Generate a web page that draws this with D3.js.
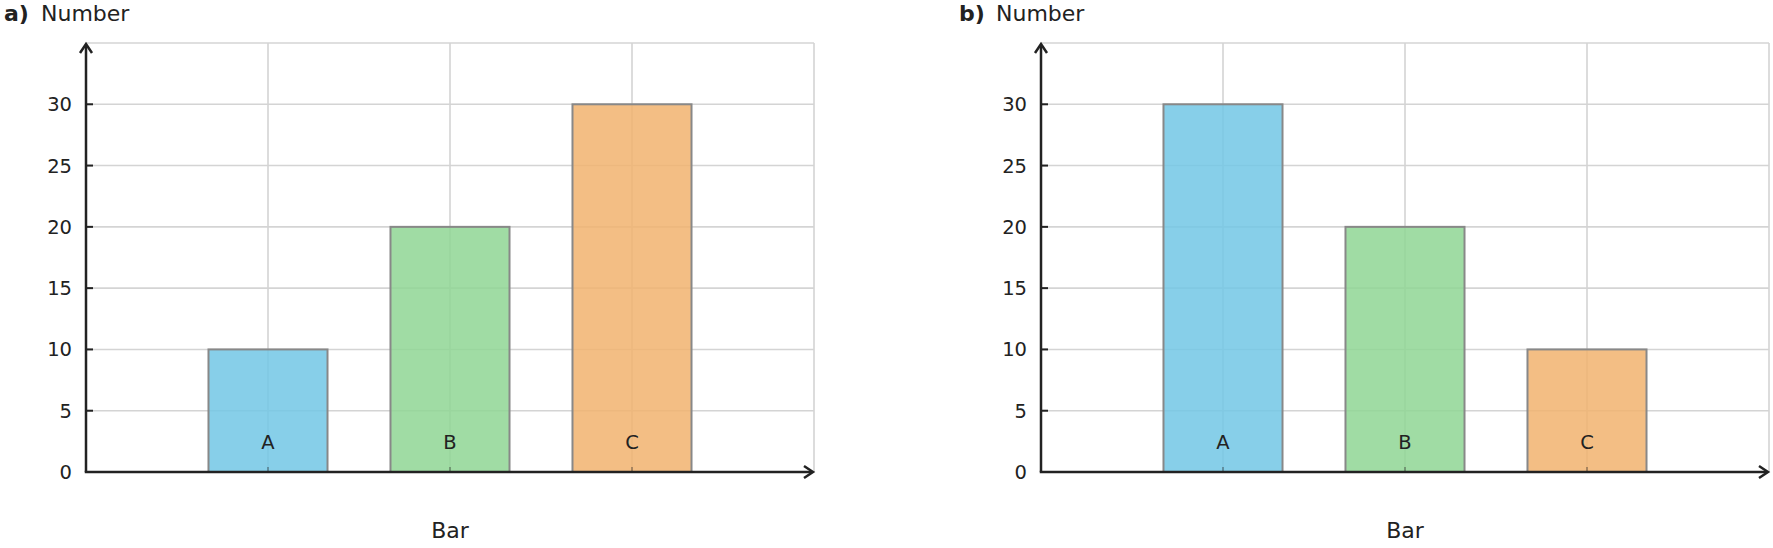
<!DOCTYPE html>
<html>
<head>
<meta charset="utf-8">
<script src="https://cdn.jsdelivr.net/npm/d3@7"></script>
<style>
  body { margin: 0; background: #fff; }
  text { font-family: "DejaVu Sans", sans-serif; fill: #222; }
</style>
</head>
<body>
<svg id="chart" width="1773" height="548"></svg>
<script>
// data
var categories = ['A', 'B', 'C'];
var valuesA = [10, 20, 30];
var valuesB = [30, 20, 10];
var yTicks = [0, 5, 10, 15, 20, 25, 30];
var panelLabels = ['a)', 'b)'];
var fills = ['rgb(114,199,229)', 'rgb(143,214,148)', 'rgb(241,179,110)'];

var svg = d3.select('#chart');
var plotW = 728, plotH = 429, plotTop = 43;
var x = d3.scaleLinear().domain([0, 4]).range([0, plotW]);
var y = d3.scaleLinear().domain([0, 35]).range([plotH, 0]);
var barW = 0.654;

function panel(left, label, values) {
  var g = svg.append('g').attr('transform', 'translate(' + left + ',' + plotTop + ')');

  // title
  g.append('text').attr('x', -82).attr('y', -22).style('font-size', '22px')
    .style('font-weight', 'bold').text(label);
  g.append('text').attr('x', -45).attr('y', -22).style('font-size', '22px').text('Number');

  // grid
  g.selectAll('.hg').data(yTicks.slice(1).concat([35])).enter().append('line')
    .attr('x1', 0).attr('x2', plotW).attr('y1', d => y(d)).attr('y2', d => y(d))
    .attr('stroke', '#d4d4d4').attr('stroke-width', 1.6);
  g.selectAll('.vg').data([1, 2, 3, 4]).enter().append('line')
    .attr('y1', 0).attr('y2', plotH).attr('x1', d => x(d)).attr('x2', d => x(d))
    .attr('stroke', '#d4d4d4').attr('stroke-width', 1.6);

  // bars
  g.selectAll('.bar').data(values).enter().append('rect')
    .attr('x', (d, i) => x(i + 1 - barW / 2))
    .attr('width', x(barW) - x(0))
    .attr('y', d => y(d))
    .attr('height', d => y(0) - y(d))
    .attr('fill', (d, i) => fills[i]).attr('fill-opacity', 0.85)
    .attr('stroke', '#888').attr('stroke-width', 2);

  // x ticks
  g.selectAll('.xt').data([1, 2, 3]).enter().append('line')
    .attr('x1', d => x(d)).attr('x2', d => x(d)).attr('y1', plotH).attr('y2', plotH - 5)
    .attr('stroke', '#222').attr('stroke-opacity', 0.35).attr('stroke-width', 2);

  // bar labels
  g.selectAll('.bl').data(categories).enter().append('text')
    .attr('x', (d, i) => x(i + 1)).attr('y', plotH - 23)
    .attr('text-anchor', 'middle').style('font-size', '19.5px').text(d => d);

  // y ticks
  g.selectAll('.yt').data(yTicks.slice(1)).enter().append('line')
    .attr('x1', 0).attr('x2', 7).attr('y1', d => y(d)).attr('y2', d => y(d))
    .attr('stroke', '#222').attr('stroke-width', 2);
  g.selectAll('.yl').data(yTicks).enter().append('text')
    .attr('x', -14).attr('y', d => y(d)).attr('dy', '0.36em')
    .attr('text-anchor', 'end').style('font-size', '19.5px').text(d => d);

  // axes with arrows
  g.append('line').attr('x1', 0).attr('y1', plotH).attr('x2', 0).attr('y2', 2)
    .attr('stroke', '#222').attr('stroke-width', 2.5);
  g.append('path').attr('d', 'M-6,10 L0,1 L6,10').attr('fill', 'none')
    .attr('stroke', '#222').attr('stroke-width', 2.5).attr('stroke-linejoin', 'miter');
  g.append('line').attr('x1', -1.25).attr('y1', plotH).attr('x2', plotW - 2).attr('y2', plotH)
    .attr('stroke', '#222').attr('stroke-width', 2.5);
  g.append('path').attr('d', 'M' + (plotW - 10) + ',' + (plotH - 6) + ' L' + (plotW - 1) + ',' + plotH + ' L' + (plotW - 10) + ',' + (plotH + 6))
    .attr('fill', 'none').attr('stroke', '#222').attr('stroke-width', 2.5);

  // x axis label
  g.append('text').attr('x', plotW / 2).attr('y', plotH + 66)
    .attr('text-anchor', 'middle').style('font-size', '22px').text('Bar');
}

panel(86, panelLabels[0], valuesA);
panel(1041, panelLabels[1], valuesB);
</script>
</body>
</html>
